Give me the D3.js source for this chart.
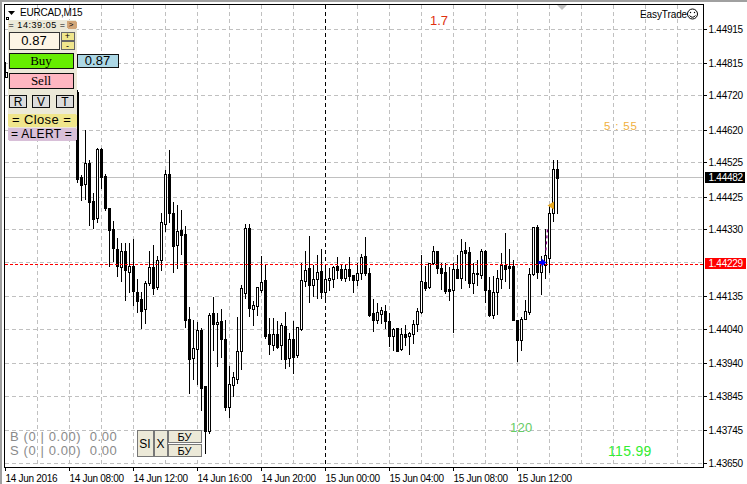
<!DOCTYPE html>
<html>
<head>
<meta charset="utf-8">
<script src="https://cdn.jsdelivr.net/npm/d3@7/dist/d3.min.js"></script>
<style>
html,body{margin:0;padding:0;background:#fff}
svg{display:block}
text{font-family:"Liberation Sans",Arial,sans-serif}
</style>
</head>
<body>
<svg id="c" width="747" height="484"></svg>
<script>
const symbol = "EURCAD,M15";
const firstBarTime = "2016-06-14T08:30:00Z";
const opens = [1.44729,1.44483,1.44461,1.44523,1.44412,1.44364,1.44564,1.44486,1.44392,1.44331,1.44272,1.44222,1.44266,1.44207,1.44224,1.44148,1.44128,1.44098,1.44173,1.44220,1.44162,1.44240,1.44347,1.44491,1.44377,1.44286,1.44328,1.44317,1.44069,1.43955,1.43981,1.44036,1.43874,1.43743,1.44086,1.44054,1.44063,1.44010,1.43814,1.43878,1.43896,1.43975,1.44144,1.44333,1.44098,1.44108,1.44154,1.44183,1.44025,1.43993,1.44025,1.43993,1.44048,1.43955,1.44010,1.43963,1.44039,1.44181,1.44217,1.44169,1.44185,1.44208,1.44149,1.44183,1.44187,1.44224,1.44215,1.44189,1.44214,1.44197,1.44184,1.44204,1.44253,1.44202,1.44086,1.44066,1.44085,1.44092,1.44064,1.44021,1.44043,1.43981,1.44025,1.44019,1.44025,1.44056,1.44089,1.44176,1.44161,1.44232,1.44267,1.44217,1.44206,1.44156,1.44153,1.44214,1.44190,1.44269,1.44264,1.44175,1.44202,1.44197,1.44266,1.44154,1.44082,1.44147,1.44186,1.44227,1.44225,1.44224,1.44066,1.44008,1.44070,1.44091,1.44200,1.44336,1.44207,1.44227,1.44248,1.44377,1.44505];
const highs = [1.44736,1.44489,1.44620,1.44532,1.44436,1.44567,1.44567,1.44491,1.44392,1.44355,1.44305,1.44291,1.44291,1.44291,1.44302,1.44186,1.44148,1.44180,1.44267,1.44285,1.44253,1.44378,1.44503,1.44561,1.44410,1.44401,1.44387,1.44340,1.44104,1.44066,1.44061,1.44043,1.43874,1.44087,1.44134,1.44087,1.44098,1.44066,1.43931,1.43916,1.44076,1.44168,1.44346,1.44346,1.44122,1.44163,1.44253,1.44227,1.44071,1.44071,1.44062,1.44057,1.44091,1.44028,1.44062,1.44047,1.44232,1.44266,1.44311,1.44227,1.44256,1.44272,1.44217,1.44217,1.44224,1.44251,1.44227,1.44227,1.44251,1.44197,1.44232,1.44259,1.44307,1.44217,1.44127,1.44115,1.44105,1.44110,1.44086,1.44043,1.44043,1.44043,1.44052,1.44032,1.44066,1.44101,1.44256,1.44225,1.44232,1.44282,1.44267,1.44232,1.44233,1.44222,1.44232,1.44256,1.44302,1.44294,1.44280,1.44232,1.44241,1.44272,1.44270,1.44191,1.44193,1.44212,1.44262,1.44321,1.44272,1.44241,1.44066,1.44076,1.44125,1.44217,1.44336,1.44343,1.44253,1.44331,1.44401,1.44532,1.44532];
const lows = [1.44469,1.44416,1.44419,1.44343,1.44335,1.44353,1.44451,1.44387,1.44225,1.44238,1.44195,1.44180,1.44125,1.44148,1.44110,1.44090,1.44044,1.44058,1.44168,1.44142,1.44157,1.44212,1.44326,1.44352,1.44206,1.44218,1.44259,1.44046,1.43855,1.43895,1.43880,1.43804,1.43678,1.43738,1.43979,1.43933,1.43960,1.43804,1.43785,1.43846,1.43882,1.43925,1.44130,1.44078,1.44052,1.44081,1.44149,1.44013,1.43968,1.43979,1.43984,1.43953,1.43928,1.43933,1.43913,1.43960,1.44037,1.44165,1.44120,1.44137,1.44130,1.44130,1.44125,1.44154,1.44162,1.44188,1.44183,1.44181,1.44183,1.44149,1.44168,1.44186,1.44197,1.44078,1.44035,1.44057,1.44057,1.44044,1.43991,1.43979,1.43977,1.43979,1.43994,1.43968,1.44000,1.44035,1.44088,1.44154,1.44159,1.44229,1.44202,1.44157,1.44146,1.44125,1.44030,1.44188,1.44159,1.44183,1.44161,1.44146,1.44168,1.44188,1.44120,1.44078,1.44071,1.44083,1.44160,1.44181,1.44160,1.44066,1.43947,1.43979,1.44070,1.44083,1.44197,1.44188,1.44142,1.44188,1.44207,1.44356,1.44379];
const closes = [1.44477,1.44459,1.44523,1.44411,1.44361,1.44564,1.44483,1.44393,1.44329,1.44277,1.44225,1.44266,1.44212,1.44224,1.44152,1.44122,1.44093,1.44173,1.44220,1.44159,1.44240,1.44351,1.44491,1.44379,1.44283,1.44326,1.44314,1.44067,1.43953,1.43984,1.44036,1.43868,1.43743,1.44081,1.44055,1.44060,1.44010,1.43814,1.43879,1.43900,1.43975,1.44159,1.44333,1.44101,1.44109,1.44162,1.44176,1.44020,1.43996,1.44025,1.43989,1.44051,1.43953,1.44010,1.43960,1.44045,1.44182,1.44212,1.44169,1.44185,1.44205,1.44148,1.44185,1.44188,1.44220,1.44212,1.44189,1.44214,1.44195,1.44183,1.44202,1.44250,1.44204,1.44081,1.44066,1.44089,1.44095,1.44062,1.44021,1.44039,1.43977,1.44025,1.44018,1.44028,1.44054,1.44092,1.44179,1.44160,1.44232,1.44267,1.44217,1.44204,1.44152,1.44152,1.44214,1.44190,1.44266,1.44262,1.44175,1.44202,1.44200,1.44266,1.44154,1.44082,1.44147,1.44188,1.44227,1.44215,1.44217,1.44066,1.44008,1.44069,1.44093,1.44200,1.44336,1.44205,1.44236,1.44256,1.44377,1.44505,1.44481];

const priceTicks = [1.44915,1.44815,1.44720,1.44620,1.44525,1.44425,1.44330,1.44235,1.44135,1.44040,1.43940,1.43845,1.43745,1.43650];
const timeTicks = ["2016-06-14T04:00:00Z","2016-06-14T08:00:00Z","2016-06-14T12:00:00Z","2016-06-14T16:00:00Z","2016-06-14T20:00:00Z","2016-06-15T00:00:00Z","2016-06-15T04:00:00Z","2016-06-15T08:00:00Z","2016-06-15T12:00:00Z"];
const timeLabels = ["14 Jun 2016","14 Jun 08:00","14 Jun 12:00","14 Jun 16:00","14 Jun 20:00","15 Jun 00:00","15 Jun 04:00","15 Jun 08:00","15 Jun 12:00"];
const separatorTime = "2016-06-15T00:00:00Z";
const bidPrice = 1.44482;
const orderPrice = 1.44229;
const entryTime = "2016-06-15T13:30:00Z", entryPrice = 1.44235;
const tpTime = "2016-06-15T13:45:00Z", tpPrice = 1.44330;
const closeMarkTime = "2016-06-15T14:00:00Z", closeMarkPrice = 1.44400;

const svg = d3.select("#c");
const x = d3.scaleUtc().domain([new Date(timeTicks[0]), new Date(timeTicks[8])]).range([5, 517]);
const y = d3.scaleLinear().domain([1.4365, 1.44915]).range([463, 28.5]);
const px = v => Math.round(y(v));
const barTime = i => new Date(+new Date(firstBarTime) + i * 9e5);
const plotLeft = 5, plotRight = 703, plotTop = 5, plotBottom = 467;
const GRID = "#c0c0c0";

svg.append("rect").attr("width",747).attr("height",2).attr("fill","#a0a0a0");
svg.append("rect").attr("width",2).attr("height",484).attr("fill","#a0a0a0");

const grid = svg.append("g").attr("shape-rendering","crispEdges");
grid.selectAll("line.h").data(priceTicks).join("line").attr("class","h")
  .attr("x1",plotLeft).attr("x2",plotRight).attr("y1",d=>px(d)+.5).attr("y2",d=>px(d)+.5)
  .attr("stroke",GRID).attr("stroke-dasharray","4,3");
const vGrid = d3.utcHour.range(new Date("2016-06-14T06:00:00Z"), new Date("2016-06-15T23:59:00Z"), 2);
grid.selectAll("line.v").data(vGrid.filter(d=>x(d)<plotRight && +d!==+new Date(separatorTime))).join("line").attr("class","v")
  .attr("x1",d=>x(d)+.5).attr("x2",d=>x(d)+.5).attr("y1",plotTop).attr("y2",plotBottom)
  .attr("stroke",GRID).attr("stroke-dasharray","4,3");
grid.append("line").attr("x1",x(new Date(separatorTime))+.5).attr("x2",x(new Date(separatorTime))+.5)
  .attr("y1",plotTop).attr("y2",plotBottom).attr("stroke","#000").attr("stroke-dasharray","4,3");
grid.append("line").attr("x1",plotLeft).attr("x2",plotRight).attr("y1",px(bidPrice)+.5).attr("y2",px(bidPrice)+.5).attr("stroke",GRID);

const idx = d3.range(opens.length);
const candles = svg.append("g").attr("shape-rendering","crispEdges");
candles.selectAll("line").data(idx).join("line")
  .attr("x1",i=>Math.round(x(barTime(i)))+.5).attr("x2",i=>Math.round(x(barTime(i)))+.5)
  .attr("y1",i=>px(highs[i])).attr("y2",i=>px(lows[i])+1).attr("stroke","#000");
candles.selectAll("rect").data(idx).join("rect")
  .attr("x",i=>Math.round(x(barTime(i)))-1+.5).attr("width",2)
  .attr("y",i=>px(Math.max(opens[i],closes[i]))+.5)
  .attr("height",i=>Math.max(1,px(Math.min(opens[i],closes[i]))-px(Math.max(opens[i],closes[i]))))
  .attr("fill",i=>closes[i]>opens[i]?"#fff":"#000").attr("stroke","#000");

svg.append("line").attr("x1",plotLeft).attr("x2",plotRight).attr("y1",px(orderPrice)+.5).attr("y2",px(orderPrice)+.5)
  .attr("stroke","#f00").attr("stroke-dasharray","3,2").attr("shape-rendering","crispEdges");

const mx = t=>x(new Date(t));
svg.append("line").attr("x1",mx(tpTime)+2.5).attr("y1",y(tpPrice)).attr("x2",mx(tpTime)+.5).attr("y2",y(entryPrice)-8)
  .attr("stroke","#800080").attr("stroke-width",1.3).attr("stroke-dasharray","3,3");
svg.append("path").attr("transform",`translate(${mx(entryTime)+1.5},${y(entryPrice)+0.5})`)
  .attr("d","M-4,-1.5 L-1,-1.5 L-1,-4 L4,0 L-1,4 L-1,1.5 L-4,1.5Z").attr("fill","#0000ff");
svg.append("path").attr("transform",`translate(${mx(closeMarkTime)+2},${y(closeMarkPrice)})`)
  .attr("d","M-3.5,0 L3,-4 L3,4Z").attr("fill","#e8a820");

const axisR = d3.axisRight(y).tickValues(priceTicks.filter(d=>d!==1.44235)).tickFormat(d3.format(".5f")).tickSize(3).tickPadding(2);
const gR = svg.append("g").attr("transform",`translate(${plotRight+.5},0)`).call(axisR);
gR.select(".domain").attr("d",`M0,4V${plotBottom+1}`).attr("stroke","#000").attr("shape-rendering","crispEdges");
gR.selectAll(".tick").attr("transform",d=>`translate(0,${px(d)+.5})`);
gR.selectAll("line").attr("stroke","#000").attr("shape-rendering","crispEdges");
gR.selectAll("text").attr("font-size",10).attr("letter-spacing",-.25).attr("x",5).attr("fill","#000");

const axisB = d3.axisBottom(x).tickValues(timeTicks.map(d=>new Date(d))).tickFormat((d,i)=>timeLabels[i]).tickSize(3).tickPadding(2);
const gB = svg.append("g").attr("transform",`translate(0,${plotBottom+.5})`).call(axisB);
gB.select(".domain").attr("d",`M4,0H${plotRight+1}`).attr("stroke","#000").attr("shape-rendering","crispEdges");
gB.selectAll("line").attr("stroke","#000").attr("shape-rendering","crispEdges");
gB.selectAll("text").attr("font-size",10).attr("letter-spacing",-.3).attr("fill","#000").attr("text-anchor","start").attr("x",0).attr("y",7).attr("dy","0.71em");
svg.append("line").attr("x1",4.5).attr("x2",4.5).attr("y1",4).attr("y2",plotBottom+1).attr("stroke","#000").attr("shape-rendering","crispEdges");
svg.append("line").attr("x1",4).attr("x2",plotRight+1).attr("y1",4.5).attr("y2",4.5).attr("stroke","#000").attr("shape-rendering","crispEdges");

[[bidPrice,"#000","#fff",40,-5,4],[orderPrice,"#f00","#fff",41,-6,3]].forEach(([p,bg,fg,w,dy0,dyT])=>{
  svg.append("rect").attr("x",705).attr("y",px(p)+dy0).attr("width",w).attr("height",11).attr("fill",bg).attr("shape-rendering","crispEdges");
  svg.append("text").attr("x",708.5).attr("y",px(p)+dyT).attr("font-size",10).attr("letter-spacing",-.25).attr("fill",fg).text(d3.format(".5f")(p));
});

function box(x0,y0,w,h,fill,stroke){return svg.append("rect").attr("x",x0+.5).attr("y",y0+.5).attr("width",w).attr("height",h).attr("rx",1).attr("fill",fill).attr("stroke",stroke||"none").attr("shape-rendering","crispEdges");}
function txt(xp,yp,s,size,fill,anchor,fam){const t=svg.append("text").attr("x",xp).attr("y",yp).attr("font-size",size).attr("fill",fill||"#000").attr("text-anchor",anchor||"start").text(s);if(fam)t.style("font-family",fam);return t;}
const SERIF='"Liberation Serif",serif';

svg.append("path").attr("d","M8,11H15L11.5,15Z").attr("fill","#000");
txt(20,16,symbol,10).attr("letter-spacing",-.2);
box(7,19.5,69,120,"#ece9d8");
box(6,17,2,2,"#fff","#000");
svg.append("rect").attr("x",5).attr("y",62).attr("width",1).attr("height",10).attr("fill","#000");
box(5,72,2,5,"#fff","#000");
txt(8.5,27.5,"= 14:39:05 =",9,"#000").attr("letter-spacing",.55);
box(66,20,10,8,"#d2a679");txt(71,27,">",8,"#000","middle");
box(9,32,50,17,"#fdf5e6","#333");txt(34,45,"0.87",13,"#000","middle");
box(61,32,13,8,"#f0e68c","#666");txt(67.5,38.5,"+",9,"#000","middle");
box(61,41,13,8,"#f0e68c","#666");txt(67.5,49,"-",9,"#000","middle");
box(9,53,64,15,"#66ee00","#111");txt(41,65,"Buy",13,"#000","middle",SERIF);
box(77,54,41,13,"#add8e6","#111");txt(97.5,65,"0.87",13,"#000","middle");
box(9,73,64,15,"#ffb6c1","#111");txt(41,85,"Sell",13,"#000","middle",SERIF);
[[9,"R"],[32,"V"],[56,"T"]].forEach(([xp,s])=>{box(xp,95,17,12,"#dcdcdc","#111");txt(xp+9,106,s,12,"#000","middle");});
box(7,113,69,13,"#f0e68c");txt(41.5,124,"= Close =",13,"#000","middle").attr("letter-spacing",.4);
box(7,127,69,13,"#d8bfd8");txt(41.5,138,"= ALERT =",12,"#000","middle").attr("letter-spacing",.3);

txt(430,25,"1.7",13,"#e03010");
txt(604,130,"5 : 55",11.5,"#f0b040").attr("letter-spacing",.8);
txt(510,432,"120",13,"#66cc66").attr("letter-spacing",.3);
txt(608,456,"115.99",14,"#33ee33").attr("letter-spacing",.3);
txt(640,18,"EasyTrade",10,"#000").attr("letter-spacing",-.1);
svg.append("circle").attr("cx",692.5).attr("cy",14).attr("r",5).attr("fill","none").attr("stroke","#000");
svg.append("circle").attr("cx",690.5).attr("cy",12.5).attr("r",.7);
svg.append("circle").attr("cx",694.5).attr("cy",12.5).attr("r",.7);
svg.append("path").attr("d","M689.5,15.5Q692.5,19 695.5,15.5").attr("fill","none").attr("stroke","#000");
svg.append("path").attr("d","M557,5H567L562,10Z").attr("fill","#c0c0c0");

txt(10,441,"B (0 | 0.00)  0.00",13,"#8a8a8a").attr("letter-spacing",.6).style("white-space","pre");
txt(10,455,"S (0 | 0.00)  0.00",13,"#8a8a8a").attr("letter-spacing",.6).style("white-space","pre");
box(137,430,16,26,"#ece9d8","#777");txt(145,448,"SI",12,"#000","middle");
box(154,430,13,26,"#ece9d8","#777");txt(160.5,448,"X",12,"#000","middle");
box(168,430,33,12,"#ece9d8","#777");txt(184.5,441,"БУ",11,"#000","middle");
box(168,444,33,12,"#ece9d8","#777");txt(184.5,455,"БУ",11,"#000","middle");
</script>
</body>
</html>
